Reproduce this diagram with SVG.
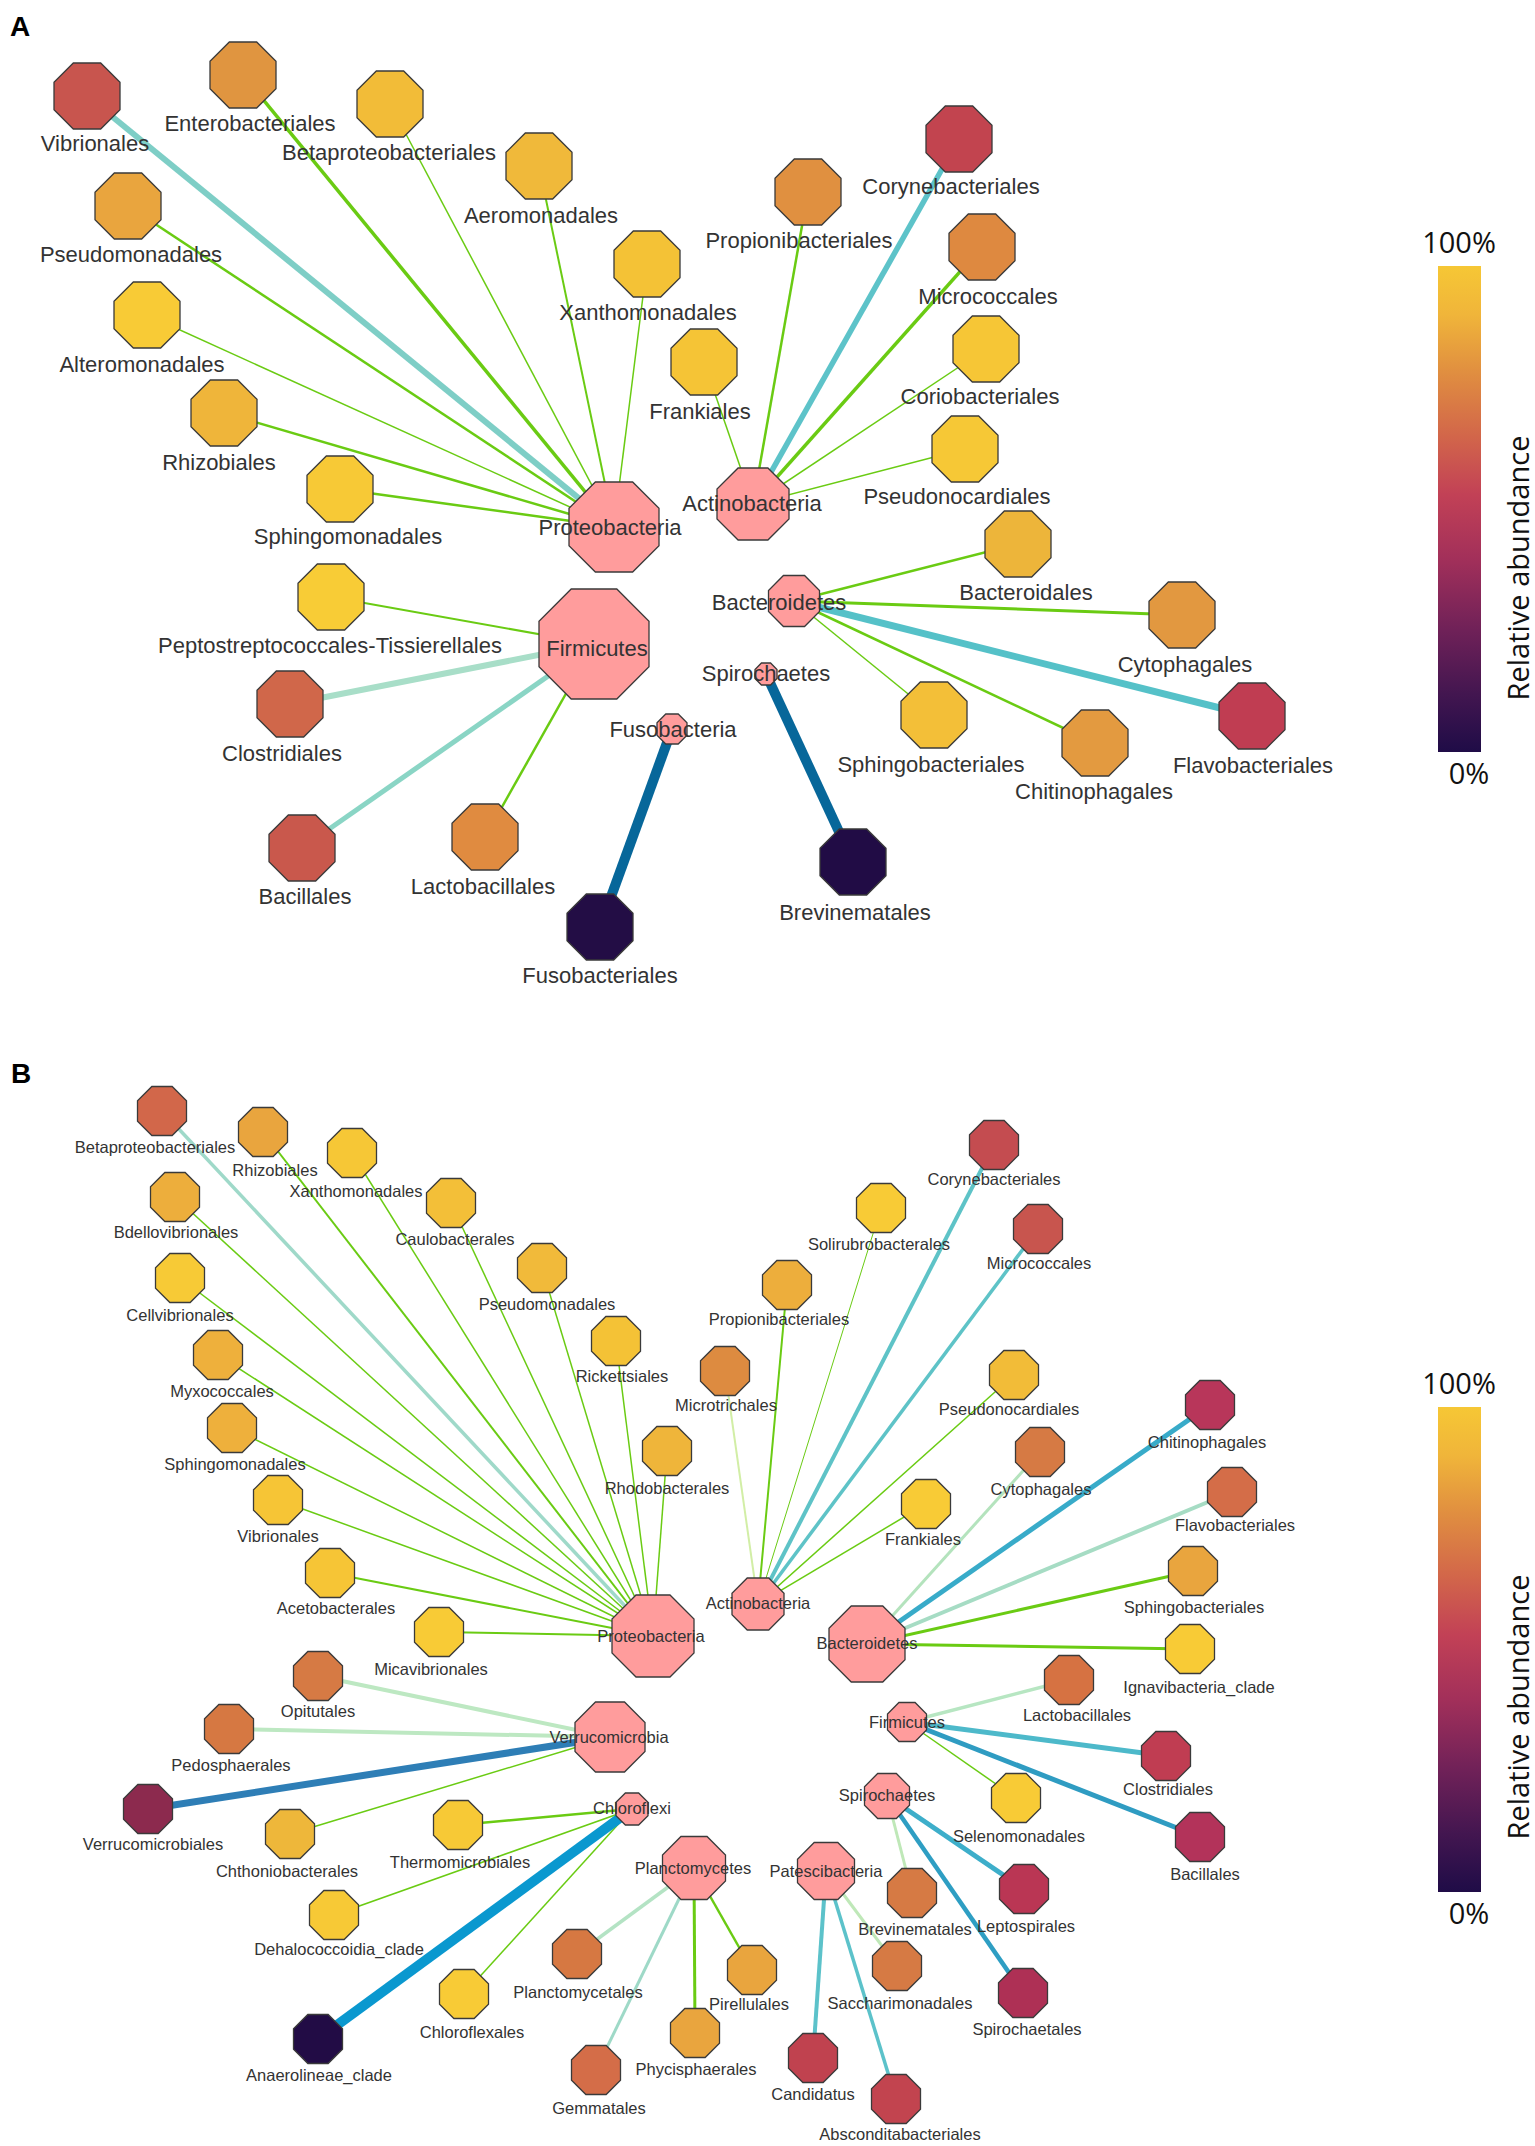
<svg xmlns="http://www.w3.org/2000/svg" xmlns:xlink="http://www.w3.org/1999/xlink" width="1535" height="2146" viewBox="0 0 1535 2146">
<style>
.o{stroke:#3a3a3a;stroke-width:1.3}
.hub{fill:#FF9C9C}
.la{font-family:"Liberation Sans",Arial,sans-serif;font-size:22px;fill:#333;text-anchor:middle}
.lb{font-family:"Liberation Sans",Arial,sans-serif;font-size:16.5px;fill:#333;text-anchor:middle}
.pl{font-family:"Liberation Sans",Arial,sans-serif;font-size:28px;font-weight:bold;fill:#000}
.cb{font-family:"Open Sans",sans-serif;font-size:29px;fill:#111;text-anchor:middle}
#connectors line{stroke-linecap:butt;fill:none}
.g{stroke:#6ACB13}
</style>
<defs>
<path id="oct" class="o" d="M1,-0.4142 L1,0.4142 L0.4142,1 L-0.4142,1 L-1,0.4142 L-1,-0.4142 L-0.4142,-1 L0.4142,-1 Z" vector-effect="non-scaling-stroke"/>
<linearGradient id="cbar" x1="0" y1="0" x2="0" y2="1">
<stop offset="0" stop-color="#F6C735"/>
<stop offset="0.1" stop-color="#F0B53A"/>
<stop offset="0.22" stop-color="#E08E40"/>
<stop offset="0.35" stop-color="#D2664A"/>
<stop offset="0.47" stop-color="#C24156"/>
<stop offset="0.6" stop-color="#A3305A"/>
<stop offset="0.75" stop-color="#6F2158"/>
<stop offset="0.88" stop-color="#431650"/>
<stop offset="1" stop-color="#1F0C47"/>
</linearGradient>
</defs>
<rect width="1535" height="2146" fill="#fff"/>
<text class="pl" x="10" y="36">A</text>
<text class="pl" x="11" y="1083">B</text>

<g id="connectors">
<!-- Panel A: Proteobacteria -->
<line x1="614" y1="527" x2="87" y2="96" stroke="#7ECEC6" stroke-width="6"/>
<line class="g" x1="614" y1="527" x2="243" y2="75" stroke-width="3.5"/>
<line class="g" x1="614" y1="527" x2="390" y2="104" stroke-width="1.5"/>
<line class="g" x1="614" y1="527" x2="539" y2="166" stroke-width="2"/>
<line class="g" x1="614" y1="527" x2="647" y2="264" stroke-width="1.5"/>
<line class="g" x1="614" y1="527" x2="128" y2="206" stroke-width="2.5"/>
<line class="g" x1="614" y1="527" x2="147" y2="315" stroke-width="1.5"/>
<line class="g" x1="614" y1="527" x2="224" y2="413" stroke-width="2.5"/>
<line class="g" x1="614" y1="527" x2="340" y2="489" stroke-width="2.5"/>
<!-- Actinobacteria -->
<line class="g" x1="753" y1="504" x2="704" y2="362" stroke-width="1.5"/>
<line class="g" x1="753" y1="504" x2="808" y2="192" stroke-width="2.5"/>
<line x1="753" y1="504" x2="959" y2="139" stroke="#5DC3C9" stroke-width="5.5"/>
<line class="g" x1="753" y1="504" x2="982" y2="247" stroke-width="3.5"/>
<line class="g" x1="753" y1="504" x2="986" y2="349" stroke-width="1.5"/>
<line class="g" x1="753" y1="504" x2="965" y2="449" stroke-width="1.5"/>
<!-- Bacteroidetes -->
<line class="g" x1="794" y1="601" x2="1018" y2="544" stroke-width="2.5"/>
<line class="g" x1="794" y1="601" x2="1182" y2="615" stroke-width="3"/>
<line x1="794" y1="601" x2="1252" y2="716" stroke="#55C1C8" stroke-width="7"/>
<line class="g" x1="794" y1="601" x2="934" y2="715" stroke-width="1.5"/>
<line class="g" x1="794" y1="601" x2="1095" y2="743" stroke-width="2.5"/>
<!-- Firmicutes -->
<line class="g" x1="594" y1="644" x2="331" y2="597" stroke-width="2"/>
<line x1="594" y1="644" x2="290" y2="704" stroke="#A8DEC8" stroke-width="6"/>
<line x1="594" y1="644" x2="302" y2="848" stroke="#8AD5C5" stroke-width="5"/>
<line class="g" x1="594" y1="644" x2="485" y2="837" stroke-width="2.5"/>
<!-- Fuso / Spiro -->
<line x1="672" y1="729" x2="600" y2="927" stroke="#07679A" stroke-width="10"/>
<line x1="766" y1="674" x2="853" y2="862" stroke="#07679A" stroke-width="10"/>

<!-- Panel B: Proteobacteria -->
<line x1="653" y1="1636" x2="162" y2="1111" stroke="#9FD9C9" stroke-width="3.5"/>
<line class="g" x1="653" y1="1636" x2="263" y2="1132" stroke-width="2"/>
<line class="g" x1="653" y1="1636" x2="352" y2="1153" stroke-width="1.5"/>
<line class="g" x1="653" y1="1636" x2="451" y2="1203" stroke-width="1.5"/>
<line class="g" x1="653" y1="1636" x2="175" y2="1197" stroke-width="1.5"/>
<line class="g" x1="653" y1="1636" x2="180" y2="1278" stroke-width="1.5"/>
<line class="g" x1="653" y1="1636" x2="542" y2="1268" stroke-width="1.5"/>
<line class="g" x1="653" y1="1636" x2="616" y2="1341" stroke-width="1.5"/>
<line class="g" x1="653" y1="1636" x2="218" y2="1355" stroke-width="1.5"/>
<line class="g" x1="653" y1="1636" x2="232" y2="1428" stroke-width="1.5"/>
<line class="g" x1="653" y1="1636" x2="667" y2="1451" stroke-width="1.5"/>
<line class="g" x1="653" y1="1636" x2="278" y2="1500" stroke-width="1.5"/>
<line class="g" x1="653" y1="1636" x2="330" y2="1573" stroke-width="2"/>
<line class="g" x1="653" y1="1636" x2="439" y2="1632" stroke-width="2"/>
<!-- Actinobacteria -->
<line x1="758" y1="1604" x2="725" y2="1371" stroke="#D2EEA6" stroke-width="2"/>
<line class="g" x1="758" y1="1604" x2="787" y2="1285" stroke-width="2"/>
<line class="g" x1="758" y1="1604" x2="881" y2="1208" stroke-width="1"/>
<line x1="758" y1="1604" x2="994" y2="1145" stroke="#5EC3C7" stroke-width="4"/>
<line x1="758" y1="1604" x2="1038" y2="1229" stroke="#5EC3C7" stroke-width="3.5"/>
<line class="g" x1="758" y1="1604" x2="1014" y2="1375" stroke-width="1.5"/>
<line class="g" x1="758" y1="1604" x2="926" y2="1504" stroke-width="1.5"/>
<!-- Bacteroidetes -->
<line x1="867" y1="1644" x2="1040" y2="1452" stroke="#B4E3BD" stroke-width="3"/>
<line x1="867" y1="1644" x2="1210" y2="1405" stroke="#38ABC9" stroke-width="5"/>
<line x1="867" y1="1644" x2="1232" y2="1492" stroke="#A6DCC4" stroke-width="4"/>
<line class="g" x1="867" y1="1644" x2="1193" y2="1571" stroke-width="3"/>
<line class="g" x1="867" y1="1644" x2="1190" y2="1649" stroke-width="3"/>
<!-- Firmicutes -->
<line x1="907" y1="1722" x2="1069" y2="1680" stroke="#B7E6C2" stroke-width="3.5"/>
<line x1="907" y1="1722" x2="1166" y2="1756" stroke="#4DB9CA" stroke-width="5"/>
<line x1="907" y1="1722" x2="1200" y2="1837" stroke="#2F9CC2" stroke-width="5"/>
<line class="g" x1="907" y1="1722" x2="1016" y2="1798" stroke-width="1.5"/>
<!-- Spirochaetes -->
<line x1="887" y1="1796" x2="912" y2="1893" stroke="#BFE8B8" stroke-width="3"/>
<line x1="887" y1="1796" x2="1024" y2="1889" stroke="#3DAECA" stroke-width="5"/>
<line x1="887" y1="1796" x2="1023" y2="1993" stroke="#2E9EC3" stroke-width="4.5"/>
<!-- Patescibacteria -->
<line x1="826" y1="1871" x2="813" y2="2058" stroke="#5CC2CA" stroke-width="4"/>
<line x1="826" y1="1871" x2="896" y2="2099" stroke="#5CC2CA" stroke-width="3.5"/>
<line x1="826" y1="1871" x2="897" y2="1966" stroke="#BFE8B8" stroke-width="3"/>
<!-- Verrucomicrobia -->
<line x1="610" y1="1737" x2="318" y2="1676" stroke="#BDE8C2" stroke-width="4"/>
<line x1="610" y1="1737" x2="229" y2="1729" stroke="#BDE8C2" stroke-width="4"/>
<line x1="610" y1="1737" x2="148" y2="1809" stroke="#2E7EB6" stroke-width="7"/>
<line class="g" x1="610" y1="1737" x2="290" y2="1834" stroke-width="1.5"/>
<!-- Chloroflexi -->
<line class="g" x1="632" y1="1809" x2="458" y2="1825" stroke-width="2.5"/>
<line class="g" x1="632" y1="1809" x2="334" y2="1915" stroke-width="1.5"/>
<line class="g" x1="632" y1="1809" x2="464" y2="1994" stroke-width="1.5"/>
<line x1="632" y1="1809" x2="318" y2="2039" stroke="#0A98CF" stroke-width="10"/>
<!-- Planctomycetes -->
<line x1="694" y1="1868" x2="577" y2="1954" stroke="#B4E3C4" stroke-width="3.5"/>
<line x1="694" y1="1868" x2="596" y2="2070" stroke="#9ED9C7" stroke-width="3"/>
<line class="g" x1="694" y1="1868" x2="695" y2="2033" stroke-width="3"/>
<line class="g" x1="694" y1="1868" x2="752" y2="1970" stroke-width="2.5"/>
</g>

<!-- Panel A leaves -->
<g id="a-vibrionales"><use href="#oct" fill="#C8554E" transform="translate(87 96) scale(33)"/><text class="la" x="95" y="151">Vibrionales</text></g>
<g id="a-enterobacteriales"><use href="#oct" fill="#E09540" transform="translate(243 75) scale(33)"/><text class="la" x="250" y="131">Enterobacteriales</text></g>
<g id="a-betaproteobacteriales"><use href="#oct" fill="#F2BC38" transform="translate(390 104) scale(33)"/><text class="la" x="389" y="160">Betaproteobacteriales</text></g>
<g id="a-aeromonadales"><use href="#oct" fill="#F0B93A" transform="translate(539 166) scale(33)"/><text class="la" x="541" y="223">Aeromonadales</text></g>
<g id="a-pseudomonadales"><use href="#oct" fill="#E9A53E" transform="translate(128 206) scale(33)"/><text class="la" x="131" y="262">Pseudomonadales</text></g>
<g id="a-xanthomonadales"><use href="#oct" fill="#F4C236" transform="translate(647 264) scale(33)"/><text class="la" x="648" y="320">Xanthomonadales</text></g>
<g id="a-alteromonadales"><use href="#oct" fill="#F8CB36" transform="translate(147 315) scale(33)"/><text class="la" x="142" y="372">Alteromonadales</text></g>
<g id="a-frankiales"><use href="#oct" fill="#F5C436" transform="translate(704 362) scale(33)"/><text class="la" x="700" y="419">Frankiales</text></g>
<g id="a-rhizobiales"><use href="#oct" fill="#EFB53A" transform="translate(224 413) scale(33)"/><text class="la" x="219" y="470">Rhizobiales</text></g>
<g id="a-sphingomonadales"><use href="#oct" fill="#F7C936" transform="translate(340 489) scale(33)"/><text class="la" x="348" y="544">Sphingomonadales</text></g>
<g id="a-peptostreptococcales"><use href="#oct" fill="#F8CC36" transform="translate(331 597) scale(33)"/><text class="la" x="330" y="653">Peptostreptococcales-Tissierellales</text></g>
<g id="a-clostridiales"><use href="#oct" fill="#D0674A" transform="translate(290 704) scale(33)"/><text class="la" x="282" y="761">Clostridiales</text></g>
<g id="a-bacillales"><use href="#oct" fill="#C9584C" transform="translate(302 848) scale(33)"/><text class="la" x="305" y="904">Bacillales</text></g>
<g id="a-lactobacillales"><use href="#oct" fill="#E08B40" transform="translate(485 837) scale(33)"/><text class="la" x="483" y="894">Lactobacillales</text></g>
<g id="a-fusobacteriales"><use href="#oct" fill="#230D45" transform="translate(600 927) scale(33)"/><text class="la" x="600" y="983">Fusobacteriales</text></g>
<g id="a-corynebacteriales"><use href="#oct" fill="#C2444F" transform="translate(959 139) scale(33)"/><text class="la" x="951" y="194">Corynebacteriales</text></g>
<g id="a-propionibacteriales"><use href="#oct" fill="#E09040" transform="translate(808 192) scale(33)"/><text class="la" x="799" y="248">Propionibacteriales</text></g>
<g id="a-micrococcales"><use href="#oct" fill="#DE8940" transform="translate(982 247) scale(33)"/><text class="la" x="988" y="304">Micrococcales</text></g>
<g id="a-coriobacteriales"><use href="#oct" fill="#F6C636" transform="translate(986 349) scale(33)"/><text class="la" x="980" y="404">Coriobacteriales</text></g>
<g id="a-pseudonocardiales"><use href="#oct" fill="#F6C836" transform="translate(965 449) scale(33)"/><text class="la" x="957" y="504">Pseudonocardiales</text></g>
<g id="a-bacteroidales"><use href="#oct" fill="#EDB53A" transform="translate(1018 544) scale(33)"/><text class="la" x="1026" y="600">Bacteroidales</text></g>
<g id="a-cytophagales"><use href="#oct" fill="#E29840" transform="translate(1182 615) scale(33)"/><text class="la" x="1185" y="672">Cytophagales</text></g>
<g id="a-sphingobacteriales"><use href="#oct" fill="#F3BF38" transform="translate(934 715) scale(33)"/><text class="la" x="931" y="772">Sphingobacteriales</text></g>
<g id="a-chitinophagales"><use href="#oct" fill="#E39A40" transform="translate(1095 743) scale(33)"/><text class="la" x="1094" y="799">Chitinophagales</text></g>
<g id="a-flavobacteriales"><use href="#oct" fill="#C03D52" transform="translate(1252 716) scale(33)"/><text class="la" x="1253" y="773">Flavobacteriales</text></g>
<g id="a-brevinematales"><use href="#oct" fill="#210C45" transform="translate(853 862) scale(33)"/><text class="la" x="855" y="920">Brevinematales</text></g>
<!-- Panel A hubs -->
<g id="a-proteobacteria"><use href="#oct" class="hub" transform="translate(614 527) scale(45)"/><text class="la" x="610" y="535">Proteobacteria</text></g>
<g id="a-actinobacteria"><use href="#oct" class="hub" transform="translate(753 504) scale(36)"/><text class="la" x="752" y="511">Actinobacteria</text></g>
<g id="a-bacteroidetes"><use href="#oct" class="hub" transform="translate(794 601) scale(25.5)"/><text class="la" x="779" y="610">Bacteroidetes</text></g>
<g id="a-firmicutes"><use href="#oct" class="hub" transform="translate(594 644) scale(55)"/><text class="la" x="597" y="656">Firmicutes</text></g>
<g id="a-spirochaetes"><use href="#oct" class="hub" transform="translate(766 674) scale(11)"/><text class="la" x="766" y="681">Spirochaetes</text></g>
<g id="a-fusobacteria"><use href="#oct" class="hub" transform="translate(672 729) scale(15)"/><text class="la" x="673" y="737">Fusobacteria</text></g>

<!-- Panel A colour bar -->
<g id="a-colorbar">
<rect x="1438" y="266" width="43" height="486" fill="url(#cbar)"/>
<text class="cb" x="1459" y="253">100%</text>
<text class="cb" x="1469" y="784">0%</text>
<text class="cb" transform="translate(1529 568) rotate(-90)">Relative abundance</text>
</g>

<!-- Panel B leaves -->
<g id="b-betaproteobacteriales"><use href="#oct" fill="#D2674A" transform="translate(162 1111) scale(24.5)"/><text class="lb" x="155" y="1153">Betaproteobacteriales</text></g>
<g id="b-rhizobiales"><use href="#oct" fill="#E9A53E" transform="translate(263 1132) scale(24.5)"/><text class="lb" x="275" y="1176">Rhizobiales</text></g>
<g id="b-xanthomonadales"><use href="#oct" fill="#F6C736" transform="translate(352 1153) scale(24.5)"/><text class="lb" x="356" y="1197">Xanthomonadales</text></g>
<g id="b-bdellovibrionales"><use href="#oct" fill="#EDAE3C" transform="translate(175 1197) scale(24.5)"/><text class="lb" x="176" y="1238">Bdellovibrionales</text></g>
<g id="b-caulobacterales"><use href="#oct" fill="#F3BF38" transform="translate(451 1203) scale(24.5)"/><text class="lb" x="455" y="1245">Caulobacterales</text></g>
<g id="b-cellvibrionales"><use href="#oct" fill="#F7CA36" transform="translate(180 1278) scale(24.5)"/><text class="lb" x="180" y="1321">Cellvibrionales</text></g>
<g id="b-pseudomonadales"><use href="#oct" fill="#F1BA3A" transform="translate(542 1268) scale(24.5)"/><text class="lb" x="547" y="1310">Pseudomonadales</text></g>
<g id="b-myxococcales"><use href="#oct" fill="#EEB03C" transform="translate(218 1355) scale(24.5)"/><text class="lb" x="222" y="1397">Myxococcales</text></g>
<g id="b-rickettsiales"><use href="#oct" fill="#F4C236" transform="translate(616 1341) scale(24.5)"/><text class="lb" x="622" y="1382">Rickettsiales</text></g>
<g id="b-sphingomonadales"><use href="#oct" fill="#EEB03C" transform="translate(232 1428) scale(24.5)"/><text class="lb" x="235" y="1470">Sphingomonadales</text></g>
<g id="b-rhodobacterales"><use href="#oct" fill="#EFB53A" transform="translate(667 1451) scale(24.5)"/><text class="lb" x="667" y="1494">Rhodobacterales</text></g>
<g id="b-vibrionales"><use href="#oct" fill="#F6C536" transform="translate(278 1500) scale(24.5)"/><text class="lb" x="278" y="1542">Vibrionales</text></g>
<g id="b-acetobacterales"><use href="#oct" fill="#F6C536" transform="translate(330 1573) scale(24.5)"/><text class="lb" x="336" y="1614">Acetobacterales</text></g>
<g id="b-micavibrionales"><use href="#oct" fill="#F8CB36" transform="translate(439 1632) scale(24.5)"/><text class="lb" x="431" y="1675">Micavibrionales</text></g>
<g id="b-microtrichales"><use href="#oct" fill="#DD8B40" transform="translate(725 1371) scale(24.5)"/><text class="lb" x="726" y="1411">Microtrichales</text></g>
<g id="b-propionibacteriales"><use href="#oct" fill="#EDAE3C" transform="translate(787 1285) scale(24.5)"/><text class="lb" x="779" y="1325">Propionibacteriales</text></g>
<g id="b-solirubrobacterales"><use href="#oct" fill="#F8CB36" transform="translate(881 1208) scale(24.5)"/><text class="lb" x="879" y="1250">Solirubrobacterales</text></g>
<g id="b-corynebacteriales"><use href="#oct" fill="#C44C50" transform="translate(994 1145) scale(24.5)"/><text class="lb" x="994" y="1185">Corynebacteriales</text></g>
<g id="b-micrococcales"><use href="#oct" fill="#C8554E" transform="translate(1038 1229) scale(24.5)"/><text class="lb" x="1039" y="1269">Micrococcales</text></g>
<g id="b-pseudonocardiales"><use href="#oct" fill="#F2BC38" transform="translate(1014 1375) scale(24.5)"/><text class="lb" x="1009" y="1415">Pseudonocardiales</text></g>
<g id="b-frankiales"><use href="#oct" fill="#F8CB36" transform="translate(926 1504) scale(24.5)"/><text class="lb" x="923" y="1545">Frankiales</text></g>
<g id="b-cytophagales"><use href="#oct" fill="#D67A44" transform="translate(1040 1452) scale(24.5)"/><text class="lb" x="1041" y="1495">Cytophagales</text></g>
<g id="b-chitinophagales"><use href="#oct" fill="#B8365A" transform="translate(1210 1405) scale(24.5)"/><text class="lb" x="1207" y="1448">Chitinophagales</text></g>
<g id="b-flavobacteriales"><use href="#oct" fill="#D46D48" transform="translate(1232 1492) scale(24.5)"/><text class="lb" x="1235" y="1531">Flavobacteriales</text></g>
<g id="b-sphingobacteriales"><use href="#oct" fill="#E9A53E" transform="translate(1193 1571) scale(24.5)"/><text class="lb" x="1194" y="1613">Sphingobacteriales</text></g>
<g id="b-ignavibacteria"><use href="#oct" fill="#F8CB36" transform="translate(1190 1649) scale(24.5)"/><text class="lb" x="1199" y="1693">Ignavibacteria_clade</text></g>
<g id="b-lactobacillales"><use href="#oct" fill="#D67242" transform="translate(1069 1680) scale(24.5)"/><text class="lb" x="1077" y="1721">Lactobacillales</text></g>
<g id="b-clostridiales"><use href="#oct" fill="#C03D52" transform="translate(1166 1756) scale(24.5)"/><text class="lb" x="1168" y="1795">Clostridiales</text></g>
<g id="b-selenomonadales"><use href="#oct" fill="#F8CB36" transform="translate(1016 1798) scale(24.5)"/><text class="lb" x="1019" y="1842">Selenomonadales</text></g>
<g id="b-bacillales"><use href="#oct" fill="#B3335A" transform="translate(1200 1837) scale(24.5)"/><text class="lb" x="1205" y="1880">Bacillales</text></g>
<g id="b-brevinematales"><use href="#oct" fill="#D67A44" transform="translate(912 1893) scale(24.5)"/><text class="lb" x="915" y="1935">Brevinematales</text></g>
<g id="b-leptospirales"><use href="#oct" fill="#BA3654" transform="translate(1024 1889) scale(24.5)"/><text class="lb" x="1026" y="1932">Leptospirales</text></g>
<g id="b-saccharimonadales"><use href="#oct" fill="#D67A44" transform="translate(897 1966) scale(24.5)"/><text class="lb" x="900" y="2009">Saccharimonadales</text></g>
<g id="b-spirochaetales"><use href="#oct" fill="#AE3055" transform="translate(1023 1993) scale(24.5)"/><text class="lb" x="1027" y="2035">Spirochaetales</text></g>
<g id="b-candidatus"><use href="#oct" fill="#C0424F" transform="translate(813 2058) scale(24.5)"/><text class="lb" x="813" y="2100">Candidatus</text></g>
<g id="b-absconditabacteriales"><use href="#oct" fill="#C2444F" transform="translate(896 2099) scale(24.5)"/><text class="lb" x="900" y="2140">Absconditabacteriales</text></g>
<g id="b-opitutales"><use href="#oct" fill="#D67A44" transform="translate(318 1676) scale(24.5)"/><text class="lb" x="318" y="1717">Opitutales</text></g>
<g id="b-pedosphaerales"><use href="#oct" fill="#D67842" transform="translate(229 1729) scale(24.5)"/><text class="lb" x="231" y="1771">Pedosphaerales</text></g>
<g id="b-verrucomicrobiales"><use href="#oct" fill="#8C2A4E" transform="translate(148 1809) scale(24.5)"/><text class="lb" x="153" y="1850">Verrucomicrobiales</text></g>
<g id="b-chthoniobacterales"><use href="#oct" fill="#EEB73A" transform="translate(290 1834) scale(24.5)"/><text class="lb" x="287" y="1877">Chthoniobacterales</text></g>
<g id="b-thermomicrobiales"><use href="#oct" fill="#F7C936" transform="translate(458 1825) scale(24.5)"/><text class="lb" x="460" y="1868">Thermomicrobiales</text></g>
<g id="b-dehalococcoidia"><use href="#oct" fill="#F7C936" transform="translate(334 1915) scale(24.5)"/><text class="lb" x="339" y="1955">Dehalococcoidia_clade</text></g>
<g id="b-planctomycetales"><use href="#oct" fill="#D67842" transform="translate(577 1954) scale(24.5)"/><text class="lb" x="578" y="1998">Planctomycetales</text></g>
<g id="b-pirellulales"><use href="#oct" fill="#E9A53E" transform="translate(752 1970) scale(24.5)"/><text class="lb" x="749" y="2010">Pirellulales</text></g>
<g id="b-chloroflexales"><use href="#oct" fill="#F8CB36" transform="translate(464 1994) scale(24.5)"/><text class="lb" x="472" y="2038">Chloroflexales</text></g>
<g id="b-anaerolineae"><use href="#oct" fill="#220C45" transform="translate(318 2039) scale(24.5)"/><text class="lb" x="319" y="2081">Anaerolineae_clade</text></g>
<g id="b-phycisphaerales"><use href="#oct" fill="#E9A53E" transform="translate(695 2033) scale(24.5)"/><text class="lb" x="696" y="2075">Phycisphaerales</text></g>
<g id="b-gemmatales"><use href="#oct" fill="#D46D48" transform="translate(596 2070) scale(24.5)"/><text class="lb" x="599" y="2114">Gemmatales</text></g>
<!-- Panel B hubs -->
<g id="b-proteobacteria"><use href="#oct" class="hub" transform="translate(653 1636) scale(41)"/><text class="lb" x="651" y="1642">Proteobacteria</text></g>
<g id="b-actinobacteria"><use href="#oct" class="hub" transform="translate(758 1604) scale(26)"/><text class="lb" x="758" y="1609">Actinobacteria</text></g>
<g id="b-bacteroidetes"><use href="#oct" class="hub" transform="translate(867 1644) scale(38)"/><text class="lb" x="867" y="1649">Bacteroidetes</text></g>
<g id="b-verrucomicrobia"><use href="#oct" class="hub" transform="translate(610 1737) scale(35)"/><text class="lb" x="609" y="1743">Verrucomicrobia</text></g>
<g id="b-firmicutes"><use href="#oct" class="hub" transform="translate(907 1722) scale(19.5)"/><text class="lb" x="907" y="1728">Firmicutes</text></g>
<g id="b-chloroflexi"><use href="#oct" class="hub" transform="translate(632 1809) scale(16)"/><text class="lb" x="632" y="1814">Chloroflexi</text></g>
<g id="b-spirochaetes"><use href="#oct" class="hub" transform="translate(887 1796) scale(22.5)"/><text class="lb" x="887" y="1801">Spirochaetes</text></g>
<g id="b-planctomycetes"><use href="#oct" class="hub" transform="translate(694 1868) scale(31.5)"/><text class="lb" x="693" y="1874">Planctomycetes</text></g>
<g id="b-patescibacteria"><use href="#oct" class="hub" transform="translate(826 1871) scale(28.5)"/><text class="lb" x="826" y="1877">Patescibacteria</text></g>

<!-- Panel B colour bar -->
<g id="b-colorbar">
<rect x="1438" y="1407" width="43" height="485" fill="url(#cbar)"/>
<text class="cb" x="1459" y="1394">100%</text>
<text class="cb" x="1469" y="1924">0%</text>
<text class="cb" transform="translate(1529 1707) rotate(-90)">Relative abundance</text>
</g>
</svg>
